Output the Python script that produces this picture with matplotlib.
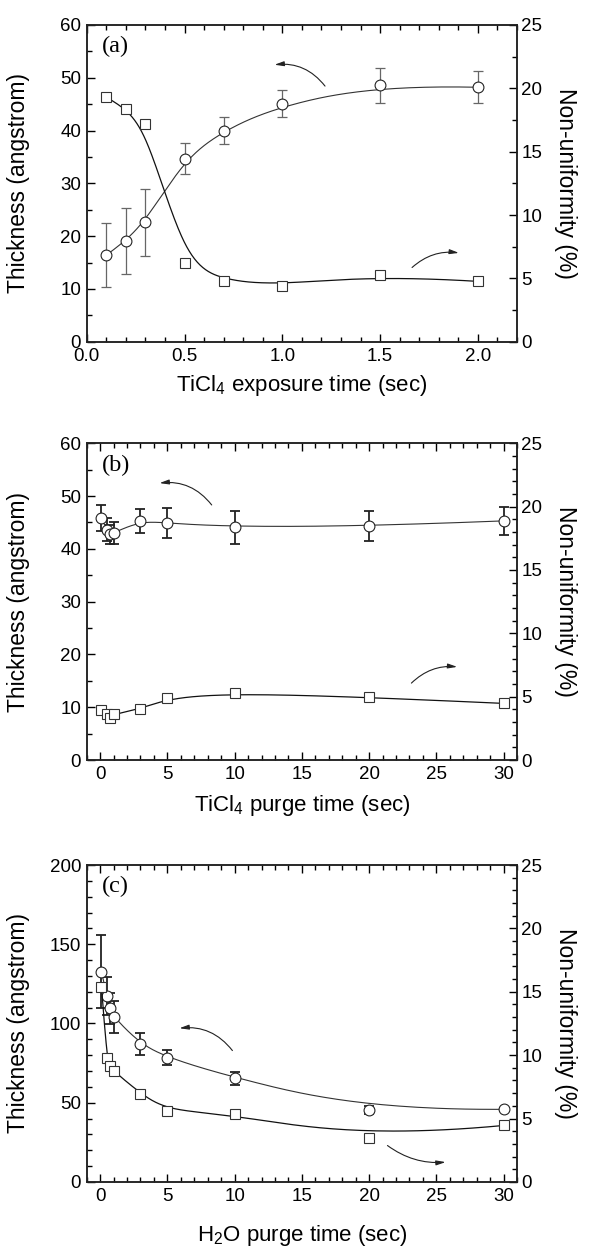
import numpy as np
import matplotlib
matplotlib.use("Agg")
import matplotlib.pyplot as plt
from matplotlib.ticker import MultipleLocator, FormatStrFormatter

plt.rcParams['font.family'] = ['Liberation Sans', 'DejaVu Sans']
plt.rcParams['mathtext.fontset'] = 'custom'
plt.rcParams['mathtext.rm'] = 'Liberation Sans'
plt.rcParams['mathtext.it'] = 'Liberation Sans:italic'

# ---------------- data ----------------
# (a) TiCl4 exposure time
a_x = [0.1, 0.2, 0.3, 0.5, 0.7, 1.0, 1.5, 2.0]
a_thick = [16.4, 19.1, 22.6, 34.7, 40.0, 45.1, 48.6, 48.2]
a_thick_err = [6.0, 6.2, 6.4, 3.0, 2.6, 2.6, 3.3, 3.0]
a_nonu = [19.3, 18.4, 17.2, 6.24, 4.82, 4.42, 5.24, 4.76]

# (b) TiCl4 purge time
b_x = [0.1, 0.5, 0.7, 1.0, 3, 5, 10, 20, 30]
b_thick = [45.8, 43.6, 42.8, 43.0, 45.3, 44.9, 44.1, 44.3, 45.3]
b_thick_err = [2.5, 2.2, 1.8, 2.0, 2.3, 2.85, 3.1, 2.9, 2.6]
b_nonu = [3.95, 3.6, 3.29, 3.63, 4.03, 4.87, 5.32, 4.95, 4.47]

# (c) H2O purge time
c_x = [0.1, 0.5, 0.7, 1.0, 3, 5, 10, 20, 30]
c_thick = [132.6, 117.3, 109.5, 104.2, 86.9, 78.5, 65.3, 45.3, 45.8]
c_thick_err = [23.0, 12.0, 10.0, 10.0, 6.8, 5.0, 4.0, 2.5, 1.0]
c_nonu = [15.4, 9.74, 9.13, 8.76, 6.97, 5.6, 5.34, 3.45, 4.45]

panel_tags = ['(a)', '(b)', '(c)']
x_labels = [r'TiCl$_\mathregular{4}$ exposure time (sec)',
            r'TiCl$_\mathregular{4}$ purge time (sec)',
            r'H$_\mathregular{2}$O purge time (sec)']
left_label = 'Thickness (angstrom)'
right_label = 'Non-uniformity (%)'


def bspline(px, py, n=300, k=3):
    """Clamped uniform B-spline using the data points as control points."""
    P = np.column_stack([px, py]).astype(float)
    m = len(P)
    inner = np.linspace(0, 1, m - k + 1)
    t = np.concatenate([np.zeros(k), inner, np.ones(k)])
    u = np.linspace(0, 1, n)
    u[-1] = 1 - 1e-12

    def basis(i, kk, uu):
        if kk == 0:
            return np.where((t[i] <= uu) & (uu < t[i + 1]), 1.0, 0.0)
        out = np.zeros_like(uu)
        d1 = t[i + kk] - t[i]
        d2 = t[i + kk + 1] - t[i + 1]
        if d1 > 0:
            out += (uu - t[i]) / d1 * basis(i, kk - 1, uu)
        if d2 > 0:
            out += (t[i + kk + 1] - uu) / d2 * basis(i + 1, kk - 1, uu)
        return out

    C = np.zeros((n, 2))
    for i in range(m):
        C += basis(i, k, u)[:, None] * P[i]
    return C[:, 0], C[:, 1]


fig = plt.figure(figsize=(5.89, 12.48), dpi=100)
L, W, H = 0.1472, 0.7306, 0.2538
bottoms = [0.7262, 0.3910, 0.0530]
xlabel_y = [-0.099, -0.103, -0.130]

configs = [
    dict(x=a_x, t=a_thick, te=a_thick_err, nu=a_nonu, xlim=(0, 2.2), xmaj=0.5, xmin=0.1,
         ylim=(0, 60), ymaj=10, ymin=5, rmin=2.5, xfmt='%.1f',
         err_color='#666666', err_lw=0.9,
         arrL=((1.227, 48.0), (0.946, 52.4), 0.3), arrR=((1.653, 13.7), (1.917, 16.75), -0.25)),
    dict(x=b_x, t=b_thick, te=b_thick_err, nu=b_nonu, xlim=(-1, 31), xmaj=5, xmin=1,
         ylim=(0, 60), ymaj=10, ymin=5, rmin=1, xfmt='%d',
         err_color='#222222', err_lw=1.3,
         arrL=((8.42, 47.9), (4.21, 52.4), 0.3), arrR=((23.0, 14.2), (26.76, 17.6), -0.25)),
    dict(x=c_x, t=c_thick, te=c_thick_err, nu=c_nonu, xlim=(-1, 31), xmaj=5, xmin=1,
         ylim=(0, 200), ymaj=50, ymin=10, rmin=1, xfmt='%d',
         err_color='#222222', err_lw=1.3,
         arrL=((9.96, 81.5), (5.69, 96.8), 0.3), arrR=((21.2, 24.0), (25.9, 12.6), 0.2)),
]

for idx, cfg in enumerate(configs):
    ax = fig.add_axes([L, bottoms[idx], W, H])
    ax2 = ax.twinx()

    # thickness (left axis, circles)
    cx, cy = bspline(cfg['x'], cfg['t'])
    ax.plot(cx, cy, color='#333333', lw=0.8, zorder=2)
    ax.errorbar(cfg['x'], cfg['t'], yerr=cfg['te'], fmt='none', ecolor=cfg['err_color'],
                elinewidth=cfg['err_lw'], capsize=3.5, capthick=cfg['err_lw'], zorder=3)
    ax.plot(cfg['x'], cfg['t'], 'o', ms=7.8, mfc='white', mec='#222222', mew=0.8, zorder=4)

    # non-uniformity (right axis, squares)
    sx, sy = bspline(cfg['x'], cfg['nu'])
    ax2.plot(sx, sy, color='#111111', lw=0.9, zorder=2)
    ax2.plot(cfg['x'], cfg['nu'], 's', ms=7.0, mfc='white', mec='#333333', mew=0.8, zorder=4)

    ax.set_xlim(*cfg['xlim'])
    ax.set_ylim(*cfg['ylim'])
    ax2.set_ylim(0, 25)

    ax.xaxis.set_major_locator(MultipleLocator(cfg['xmaj']))
    ax.xaxis.set_minor_locator(MultipleLocator(cfg['xmin']))
    ax.yaxis.set_major_locator(MultipleLocator(cfg['ymaj']))
    ax.yaxis.set_minor_locator(MultipleLocator(cfg['ymin']))
    ax2.yaxis.set_major_locator(MultipleLocator(5))
    ax2.yaxis.set_minor_locator(MultipleLocator(cfg['rmin']))
    ax.xaxis.set_major_formatter(FormatStrFormatter(cfg['xfmt']))

    ax.tick_params(axis='x', which='both', direction='in', top=True, bottom=True)
    ax.tick_params(axis='y', which='both', direction='in', left=True, right=False)
    ax2.tick_params(axis='y', which='both', direction='in', left=False, right=True)
    for a in (ax, ax2):
        a.tick_params(which='major', length=6, width=1.0, labelsize=13.5, pad=3)
        a.tick_params(which='minor', length=3.5, width=1.0)
        for sp in a.spines.values():
            sp.set_linewidth(1.1)
            sp.set_color('#222222')
    ax.tick_params(axis='x', which='major', pad=4.5)
    ax.tick_params(axis='y', which='major', pad=4)

    ax.set_xlabel(x_labels[idx], fontsize=16)
    ax.xaxis.set_label_coords(0.5, xlabel_y[idx])
    ax.set_ylabel(left_label, fontsize=16.5)
    ax.yaxis.set_label_coords(-0.132, 0.5)
    ax2.set_ylabel(right_label, fontsize=16.5, rotation=270, va='center')
    ax2.yaxis.set_label_coords(1.113, 0.5)

    ax.text(0.035, 0.965, panel_tags[idx], transform=ax.transAxes, ha='left', va='top',
            fontsize=17.5, family='Liberation Serif')

    (s0, h0, r0) = cfg['arrL']
    ax.annotate('', xy=h0, xytext=s0,
                arrowprops=dict(arrowstyle='-|>,head_length=0.55,head_width=0.14', color='#222222',
                                lw=0.8, connectionstyle='arc3,rad=%s' % r0))
    (s1, h1, r1) = cfg['arrR']
    ax.annotate('', xy=h1, xytext=s1,
                arrowprops=dict(arrowstyle='-|>,head_length=0.55,head_width=0.14', color='#222222',
                                lw=0.8, connectionstyle='arc3,rad=%s' % r1))

fig.savefig('out.png', dpi=100)
